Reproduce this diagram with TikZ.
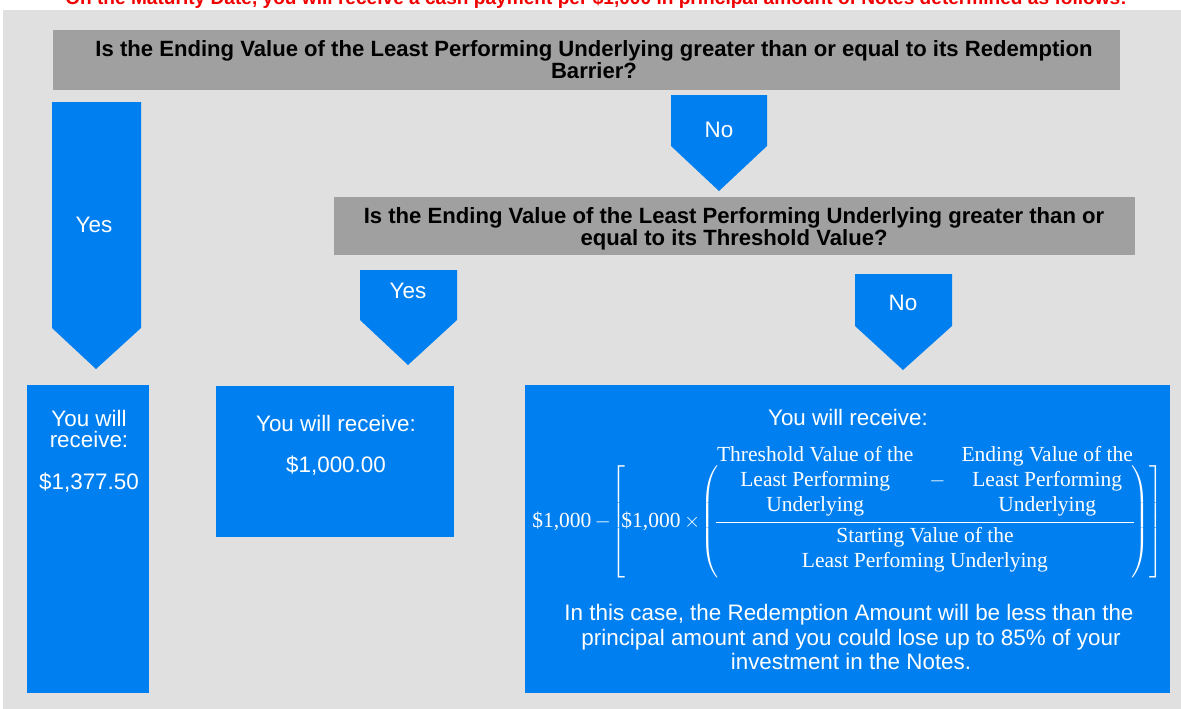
\documentclass[tikz,border=0pt]{standalone}
\usepackage{amsmath}
\usepackage{fontspec}
\setmainfont{Liberation Sans}
\newfontfamily\formserif{Liberation Serif}
\definecolor{panelgray}{RGB}{224,224,224}
\definecolor{qgray}{RGB}{160,160,160}
\definecolor{flowblue}{RGB}{0,128,240}
\definecolor{warnred}{RGB}{240,0,0}
\begin{document}
\begin{tikzpicture}[x=1pt,y=-1pt,
  qtext/.style={anchor=base,inner sep=0pt,font=\fontsize{22.1}{21}\selectfont\bfseries,text=black},
  wtext/.style={anchor=base,inner sep=0pt,font=\fontsize{22.4}{21}\selectfont,text=white},
  blueshape/.style={fill=flowblue,draw=none},
  grayshape/.style={fill=qgray,draw=none}]
\useasboundingbox (0,0) rectangle (1181,709);
\clip (0,0) rectangle (1181,709);
\fill[white] (0,0) rectangle (1181,709);
% red heading (cut at top)
\node[anchor=base,inner sep=0pt,text=warnred,font=\fontsize{19.1}{19}\selectfont\bfseries] (head) at (596,4.5)
  {On the Maturity Date, you will receive a cash payment per \$1,000 in principal amount of Notes determined as follows:};
% panel
\fill[panelgray] (3,10) rectangle (1181,709);
% first question
\fill[grayshape] (53,30) rectangle (1120,90);
\node[qtext] (q1a) at (594,57) {Is the Ending Value of the Least Performing Underlying greater than or equal to its Redemption};
\node[qtext] (q1b) at (594,78) {Barrier?};
% Yes arrow left
\fill[blueshape] (52,102) -- (141,102) -- (141,328) -- (96,369) -- (52,328) -- cycle;
\node[wtext] (yes1) at (94,232) {Yes};
% No arrow top
\fill[blueshape] (671,95) -- (767,95) -- (767,146) -- (719,191) -- (671,146) -- cycle;
\node[wtext] (no1) at (719,137) {No};
% second question
\fill[grayshape] (334,197) rectangle (1135,255);
\node[qtext] (q2a) at (734,223) {Is the Ending Value of the Least Performing Underlying greater than or};
\node[qtext] (q2b) at (734,245) {equal to its Threshold Value?};
% Yes arrow second
\fill[blueshape] (360,270) -- (457,270) -- (457,320) -- (408,365) -- (360,320) -- cycle;
\node[wtext] (yes2) at (408,298) {Yes};
% No arrow second
\fill[blueshape] (855,274) -- (952,274) -- (952,326) -- (903,370) -- (855,326) -- cycle;
\node[wtext] (no2) at (903,310) {No};
% result boxes
\fill[blueshape] (27,385) rectangle (149,693);
\node[wtext] (r1a) at (89,426) {You will};
\node[wtext] (r1b) at (89,447) {receive:};
\node[wtext] (r1c) at (89,489) {\$1,377.50};
\fill[blueshape] (216,386) rectangle (454,537);
\node[wtext] (r2a) at (336,431) {You will receive:};
\node[wtext] (r2b) at (336,472) {\$1,000.00};
\fill[blueshape] (525,385) rectangle (1170,693);
\node[wtext] (r3a) at (848,425) {You will receive:};
\node[inner sep=0pt,text=white,font=\fontsize{21.5}{25}\selectfont\formserif] (formula) at (848,511)
 {\delimiterfactor=680 \delimitershortfall=200pt \setlength{\tabcolsep}{1pt}\medmuskip=3mu%
 $\mbox{\$1,000} -\! \left[\!\mbox{\$1,000} \times\! \left(\!\dfrac{\begin{tabular}{c}Threshold Value of the\\Least Performing\\Underlying\end{tabular} \;\;-\;\; \begin{tabular}{c}Ending Value of the\\Least Performing\\Underlying\end{tabular}}{\begin{tabular}{c}Starting Value of the\\Least Perfoming Underlying\end{tabular}}\!\right)\right]$};
\node[wtext] (p1) at (849,620) {In this case, the Redemption Amount will be less than the};
\node[wtext] (p2) at (851,645) {principal amount and you could lose up to 85\% of your};
\node[wtext] (p3) at (851,669) {investment in the Notes.};
\end{tikzpicture}
\end{document}
